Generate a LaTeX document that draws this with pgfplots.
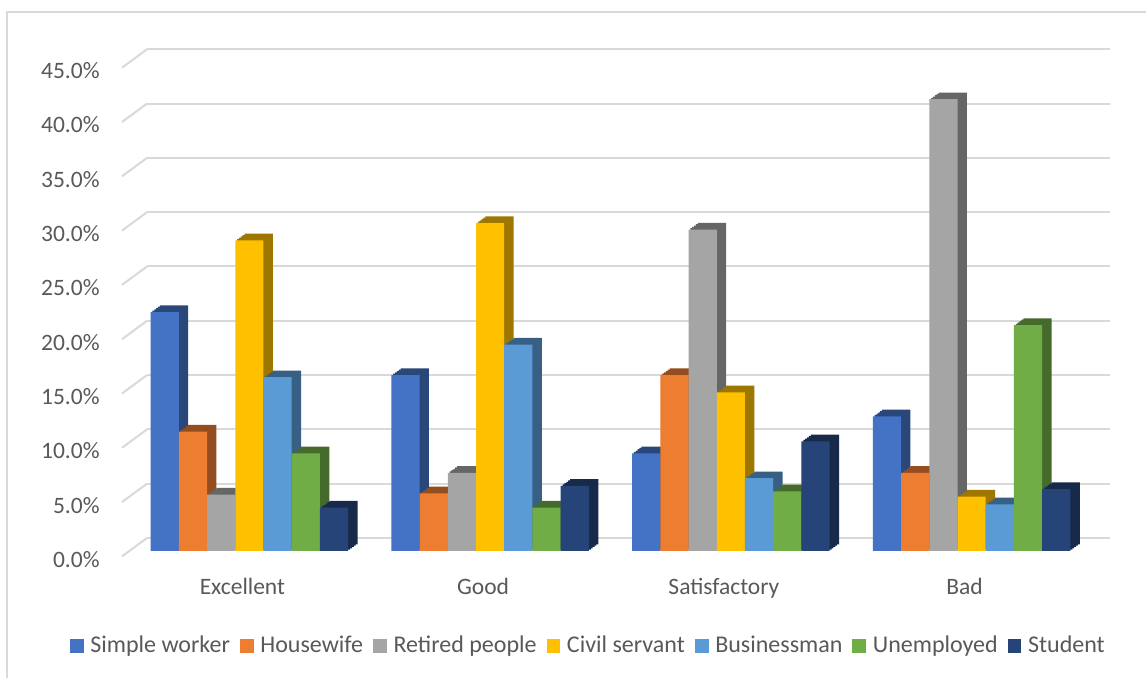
\documentclass[border=0pt]{standalone}
\usepackage{pgfplots}
\pgfplotsset{compat=1.18}
\usepackage{pgfplotstable}
\usepackage{fontspec}
\setmainfont{Carlito}
\definecolor{c1}{HTML}{4472C4}
\definecolor{c2}{HTML}{ED7D31}
\definecolor{c3}{HTML}{A5A5A5}
\definecolor{c4}{HTML}{FFC000}
\definecolor{c5}{HTML}{5B9BD5}
\definecolor{c6}{HTML}{70AD47}
\definecolor{c7}{HTML}{264478}
\definecolor{gridc}{HTML}{D9D9D9}
\definecolor{txt}{HTML}{595959}

\pgfplotstableread{
x SW HW RP CS BM UE ST
0 22.0 11.0 5.2 28.6 16.0 9.0 4.0
1 16.2 5.3 7.2 30.2 19.0 4.0 6.0
2 9.0 16.2 29.6 14.6 6.7 5.5 10.1
3 12.4 7.2 41.6 5.0 4.3 20.8 5.7
}\data

\pgfplotsset{
  bar3d/.style={fill=#1, draw=none,
    preaction={fill=#1!62!black, transform canvas={shift={(0.93pt,0.67pt)}}},
    preaction={fill=#1!62!black, transform canvas={shift={(1.86pt,1.34pt)}}},
    preaction={fill=#1!62!black, transform canvas={shift={(2.79pt,2.01pt)}}},
    preaction={fill=#1!62!black, transform canvas={shift={(3.72pt,2.68pt)}}},
    preaction={fill=#1!62!black, transform canvas={shift={(4.65pt,3.35pt)}}},
    legend image code/.code={%
      \pgfsetfillcolor{#1}%
      \pgfpathrectangle{\pgfpoint{0pt}{-3.4pt}}{\pgfpoint{6.8pt}{6.8pt}}%
      \pgfusepath{fill}}},
}

\begin{document}
\fontsize{11.75}{14}\selectfont
\begin{tikzpicture}
\path[use as bounding box] (0,0) rectangle (573pt,339pt);
\fill[white] (0,0) rectangle (573pt,339pt);
\draw[gridc, line width=0.6pt] (3.5pt,0) -- (3.5pt,333pt) -- (573pt,333pt);
\begin{axis}[
  at={(64.5pt,63.5pt)}, anchor=south west,
  scale only axis, width=481.5pt, height=244.35pt,
  xmin=-0.5, xmax=3.5, ymin=0, ymax=45,
  clip=false,
  ybar=0pt, bar width=0.1173,
  axis line style={draw=none},
  major tick length=0pt,
  xtick={0,1,2,3},
  xticklabels={Excellent,Good,Satisfactory,Bad},
  ytick={0,5,...,45},
  yticklabel={\pgfmathprintnumber[fixed,fixed zerofill,precision=1]{\tick}\%},
  /pgf/number format/assume math mode=true,
  ticklabel style={font=\fontsize{11.75}{14}\selectfont, text=txt},
  yticklabel style={anchor=east, inner sep=0pt, xshift=-14.5pt, yshift=-4.2pt},
  xticklabel style={anchor=base, inner sep=0pt, yshift=-22pt, xshift=-3.5pt},
  ymajorgrids,
  major grid style={draw=gridc, line width=1pt, transform canvas={shift={(9pt,6.5pt)}}},
  legend style={at={(0.476,-0.1944)}, anchor=center, draw=none, fill=none,
    legend columns=-1, font=\fontsize{12}{14}\selectfont, text=txt,
    nodes={inner sep=0pt},
    /tikz/every odd column/.append style={column sep=3.4pt},
    /tikz/every even column/.append style={column sep=5pt}},
]
\pgfplotsinvokeforeach{0,5,...,45}{
  \draw[gridc, line width=1pt] ([shift={(-3.5pt,-2.7pt)}]axis cs:-0.5,#1) -- ([shift={(9pt,6.5pt)}]axis cs:-0.5,#1);
}
\addplot[bar3d=c1] table[x=x, y=SW] {\data};
\addlegendentry{Simple worker}
\addplot[bar3d=c2] table[x=x, y=HW] {\data};
\addlegendentry{Housewife}
\addplot[bar3d=c3] table[x=x, y=RP] {\data};
\addlegendentry{Retired people}
\addplot[bar3d=c4] table[x=x, y=CS] {\data};
\addlegendentry{Civil servant}
\addplot[bar3d=c5] table[x=x, y=BM] {\data};
\addlegendentry{Businessman}
\addplot[bar3d=c6] table[x=x, y=UE] {\data};
\addlegendentry{Unemployed}
\addplot[bar3d=c7] table[x=x, y=ST] {\data};
\addlegendentry{Student}
\end{axis}
\end{tikzpicture}
\end{document}
